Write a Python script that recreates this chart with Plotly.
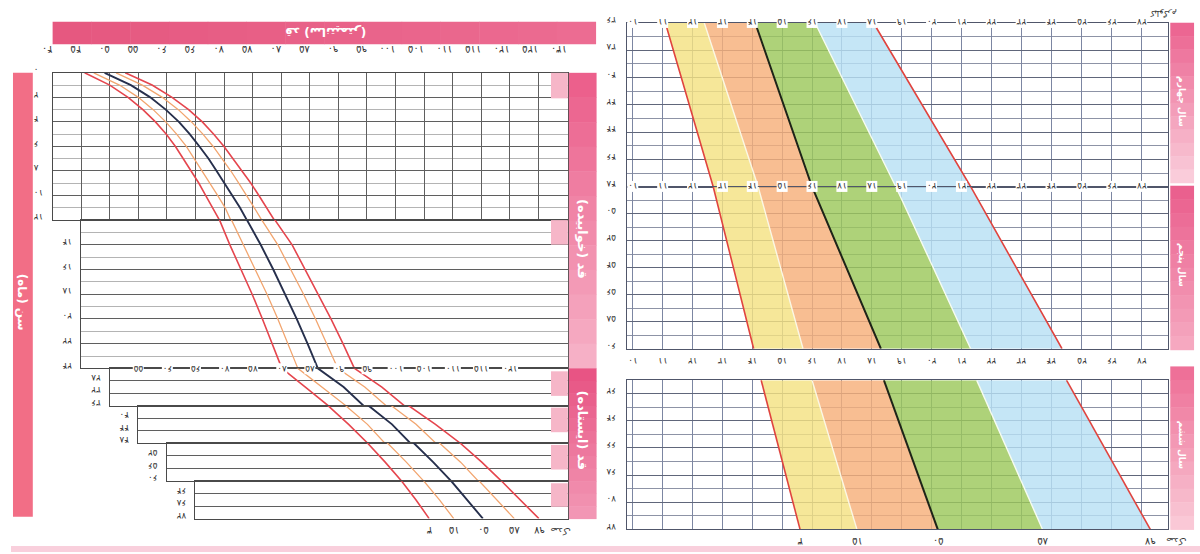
import plotly.graph_objects as go

W, H = 1200, 554
FA = str.maketrans("0123456789", "۰۱۲۳۴۵۶۷۸۹")


def fa(v):
    if isinstance(v, float) and v.is_integer():
        v = int(v)
    return str(v).translate(FA)


# ---------------- data ----------------
# Left panel: length (0-24 m, lying) and height (24-72 m, standing), girls, cm
len_age = [0, 1, 2, 3, 4, 5, 6, 7, 8, 9, 10, 11, 12, 14, 16, 18, 20, 22, 24,
           30, 36, 42, 48, 54, 60, 66, 72]
len_p3 = [45.6, 50.0, 53.2, 55.8, 58.0, 59.9, 61.5, 62.9, 64.3, 65.6, 66.8, 68.0, 69.2,
          71.0, 73.0, 74.9, 76.7, 78.4, 80.1, 84.2, 88.2, 91.8, 95.1, 98.2, 101.1, 103.6, 105.9]
len_p15 = [47.2, 51.7, 55.0, 57.6, 59.8, 61.7, 63.4, 64.8, 66.2, 67.6, 68.9, 70.2, 71.3,
           73.4, 75.5, 77.5, 79.4, 81.2, 82.9, 87.1, 91.3, 95.1, 98.6, 101.9, 105.0, 107.7, 110.2]
len_p50 = [49.1, 53.7, 57.1, 59.8, 62.1, 64.0, 65.7, 67.3, 68.7, 70.1, 71.5, 72.8, 74.0,
           76.4, 78.6, 80.7, 82.7, 84.6, 86.4, 90.9, 95.3, 99.4, 103.2, 106.6, 109.8, 112.6, 115.3]
len_p85 = [51.1, 55.7, 59.2, 62.0, 64.3, 66.3, 68.1, 69.7, 71.2, 72.6, 74.0, 75.3, 76.6,
           79.4, 81.7, 83.9, 86.0, 88.0, 89.9, 94.6, 99.3, 103.6, 107.7, 111.4, 114.7, 117.8, 120.8]
len_p97 = [52.7, 57.4, 60.9, 63.8, 66.2, 68.2, 70.0, 71.6, 73.2, 74.7, 76.1, 77.5, 78.9,
           81.9, 84.2, 86.5, 88.7, 90.8, 92.8, 97.6, 102.4, 107.0, 111.3, 115.1, 118.6, 121.9, 125.1]

height_ticks = list(range(40, 131, 5))          # top scale (cm)
mid_row_ticks = list(range(55, 121, 5))          # labels on the 24-month row
left_age_ticks = [[0, 2, 4, 6, 8, 10, 12], [14, 16, 18, 20, 22, 24],
                  [28, 32, 36], [40, 44, 48], [52, 56, 60], [64, 68, 72]]

# Right panel: weight for age (kg), years 4-6
wt_age_a = [36, 48, 60]
wt_p3_a = [11.1, 12.7, 14.05]
wt_p15_a = [12.4, 14.2, 15.7]
wt_p50_a = [14.1, 16.0, 18.3]
wt_p85_a = [16.1, 18.8, 21.3]
wt_p97_a = [18.05, 21.3, 24.35]
wt_age_b = [61, 72]
wt_p3_b = [14.3, 15.6]
wt_p15_b = [16.0, 17.5]
wt_p50_b = [18.4, 20.2]
wt_p85_b = [21.5, 23.7]
wt_p97_b = [24.5, 27.3]

weight_ticks = list(range(10, 28))
right_age_ticks = [[36, 38, 40, 42, 44, 46, 48], [50, 52, 54, 56, 58, 60],
                   [62, 64, 66, 68, 70, 72]]
pct_labels = [3, 15, 50, 85, 97]

FONT = "DejaVu Sans"
fig = go.Figure()


def px_x(p):
    return p / W


def px_y(p):
    return 1 - p / H


def ax_names(n):
    s = "" if n == 1 else str(n)
    return "x" + s, "y" + s, "xaxis" + s, "yaxis" + s


# ---------------- left panel axes ----------------
K = 5.767            # px per cm
XR = 562             # right edge px
CM_R = 40 + (XR - 42) / K
left_sub = [  # (left px, cm at left, top px, bottom px, age top, age bottom)
    (42, 40, 66, 216, 0, 12),
    (71, 45, 216, 367, 12, 24),
    (100, 50, 367, 405, 24, 36),
    (128.5, 55, 405, 443, 36, 48),
    (157.3, 60, 443, 482, 48, 60),
    (186.2, 65, 482, 520, 60, 72),
]
layout = {}
for i, (xl, cml, yt, yb, a0, a1) in enumerate(left_sub):
    n = i + 1
    xs, ys, xk, yk = ax_names(n)
    first = n == 1
    layout[xk] = dict(
        domain=[px_x(xl), px_x(XR)], range=[cml, CM_R], anchor=ys,
        side="top", tickmode="array", tickvals=height_ticks if first else [],
        ticktext=[fa(v) for v in height_ticks] if first else [],
        showticklabels=first, ticks="", tickangle=180, ticklabelstandoff=12,
        tickfont=dict(family=FONT, size=10, color="#333"),
        showgrid=True, gridcolor="#5f5f5f", gridwidth=1,
        showline=True, mirror=True, linecolor="#4a4a4a", linewidth=1.3,
        zeroline=False, fixedrange=True)
    minor = dict(dtick=1, showgrid=True, gridcolor="#b4b4b4", gridwidth=0.8) if n <= 2 else None
    yd = dict(
        domain=[px_y(yb), px_y(yt)], range=[a1, a0], anchor=xs,
        tickmode="array", tickvals=left_age_ticks[i],
        ticktext=[fa(v) for v in left_age_ticks[i]], ticks="", tickangle=180,
        ticklabelstandoff=16,
        tickfont=dict(family=FONT, size=9, color="#333"),
        showgrid=True, gridcolor="#5f5f5f", gridwidth=1,
        showline=True, mirror=True, linecolor="#4a4a4a", linewidth=1.3,
        zeroline=False, fixedrange=True)
    if minor:
        yd["minor"] = minor
    layout[yk] = yd

# ---------------- right panel axes ----------------
WX0, WX1 = 622, 1168
W_L, W_R = 9.83, 27.9
right_sub = [(15, 182, 36, 48), (182, 347, 48, 60), (379, 531, 61, 72)]
for j, (yt, yb, a0, a1) in enumerate(right_sub):
    n = 7 + j
    xs, ys, xk, yk = ax_names(n)
    layout[xk] = dict(
        domain=[px_x(WX0), px_x(WX1)], range=[W_L, W_R], anchor=ys,
        tickmode="array", tickvals=weight_ticks, showticklabels=False, ticks="",
        showgrid=True, gridcolor="#7c86a2", gridwidth=1,
        showline=True, mirror=True, linecolor="#50566a", linewidth=1.4,
        zeroline=False, fixedrange=True)
    layout[yk] = dict(
        domain=[px_y(yb), px_y(yt)], range=[a1, a0], anchor=xs,
        tickmode="array", tickvals=right_age_ticks[j],
        ticktext=[fa(v) for v in right_age_ticks[j]], ticks="", tickangle=180,
        ticklabelstandoff=18,
        tickfont=dict(family=FONT, size=9, color="#333"),
        showgrid=True, gridcolor="#60667a", gridwidth=1.2,
        minor=dict(dtick=1, showgrid=True, gridcolor="#8d93a6", gridwidth=0.8),
        showline=True, mirror=True, linecolor="#50566a", linewidth=1.4,
        zeroline=False, fixedrange=True)

# ---------------- left panel curves ----------------
left_series = [
    (len_p3, "#e5464e", 1.6),
    (len_p15, "#f2a56f", 1.3),
    (len_p50, "#27304d", 1.9),
    (len_p85, "#f2a56f", 1.3),
    (len_p97, "#e5464e", 1.6),
]
for n in range(1, 7):
    xs, ys, _, _ = ax_names(n)
    for vals, col, wd in left_series:
        fig.add_trace(go.Scatter(x=vals, y=len_age, mode="lines", xaxis=xs, yaxis=ys,
                                 line=dict(color=col, width=wd), showlegend=False,
                                 hoverinfo="skip"))

# ---------------- right panel bands ----------------
band_cols = ["rgba(244,226,130,0.82)", "rgba(246,176,122,0.82)",
             "rgba(156,200,92,0.82)", "rgba(184,224,244,0.82)"]
sets = [
    (7, wt_age_a, [wt_p3_a, wt_p15_a, wt_p50_a, wt_p85_a, wt_p97_a]),
    (8, wt_age_a, [wt_p3_a, wt_p15_a, wt_p50_a, wt_p85_a, wt_p97_a]),
    (9, wt_age_b, [wt_p3_b, wt_p15_b, wt_p50_b, wt_p85_b, wt_p97_b]),
]
line_sty = [("#e0443f", 1.6), ("#fbf7e4", 1.4), ("#1e2418", 2.0),
            ("#f6fbf0", 1.4), ("#e0443f", 1.6)]
for n, ages, ps in sets:
    xs, ys, _, _ = ax_names(n)
    for k in range(4):
        lo, hi = ps[k], ps[k + 1]
        fig.add_trace(go.Scatter(x=lo + hi[::-1], y=ages + ages[::-1], mode="lines",
                                 fill="toself", fillcolor=band_cols[k],
                                 line=dict(width=0), xaxis=xs, yaxis=ys,
                                 showlegend=False, hoverinfo="skip"))
    for k in range(5):
        col, wd = line_sty[k]
        fig.add_trace(go.Scatter(x=ps[k], y=ages, mode="lines", xaxis=xs, yaxis=ys,
                                 line=dict(color=col, width=wd), showlegend=False,
                                 hoverinfo="skip"))

# ---------------- decorations ----------------
shapes = []


def rect(x0, y0, x1, y1, color):
    shapes.append(dict(type="rect", xref="paper", yref="paper",
                       x0=px_x(x0), x1=px_x(x1), y0=px_y(y1), y1=px_y(y0),
                       fillcolor=color, line=dict(width=0), layer="above"))


def vgrad(x0, y0, x1, y1, c_top, c_bot, steps=12):
    for s in range(steps):
        t = s / (steps - 1)
        c = tuple(int(c_top[i] + (c_bot[i] - c_top[i]) * t) for i in range(3))
        ya = y0 + (y1 - y0) * s / steps
        yb = y0 + (y1 - y0) * (s + 1) / steps + 0.5
        rect(x0, ya, x1, yb, "rgb(%d,%d,%d)" % c)


def hgrad(x0, y0, x1, y1, c_l, c_r, steps=14):
    for s in range(steps):
        t = s / (steps - 1)
        c = tuple(int(c_l[i] + (c_r[i] - c_l[i]) * t) for i in range(3))
        xa = x0 + (x1 - x0) * s / steps
        xb = x0 + (x1 - x0) * (s + 1) / steps + 0.5
        rect(xa, y0, xb, y1, "rgb(%d,%d,%d)" % c)


# header bar of left panel
hgrad(42, 14, 590, 37, (230, 88, 128), (236, 108, 146))
# left vertical bar
rect(2, 66, 22, 518, "#f26e86")
# right strip of left panel
vgrad(563, 66, 591, 367, (236, 96, 140), (246, 176, 198))
vgrad(563, 367, 591, 520, (232, 84, 132), (242, 150, 180))
# small tabs
for (ta, tb) in [(66, 92), (216, 241), (370, 395), (407, 432), (445, 470), (484, 508)]:
    rect(545, ta, 562, tb, "#f6b6c8")
# right strip of right panel
vgrad(1170, 15, 1194, 178, (236, 102, 146), (250, 204, 218))
vgrad(1170, 181, 1194, 348, (234, 96, 142), (246, 168, 192))
vgrad(1170, 365, 1194, 531, (238, 112, 152), (250, 200, 214))
# bottom pink line
rect(0, 548, 1200, 554, "#f9cfdc")

ann = []


def txt(x, y, t, size=10, color="#333", angle=180, bg=None, xref="paper", yref="paper",
        yshift=0, bold=False):
    d = dict(x=x, y=y, xref=xref, yref=yref, text=("<b>%s</b>" % t) if bold else t,
             showarrow=False, textangle=angle, yshift=yshift,
             font=dict(family=FONT, size=size, color=color),
             xanchor="center", yanchor="middle")
    if bg:
        d["bgcolor"] = bg
        d["borderpad"] = 0
    ann.append(d)


# titles (upside-down as in the scan)
txt(px_x(318), px_y(25), "قد (سانتیمتر)", size=12, color="white", bold=True)
txt(px_x(12), px_y(300), "سن (ماه)", size=12, color="white", angle=90, bold=True)
txt(px_x(577), px_y(235), "قد (خوابیده)", size=13, color="white", angle=90, bold=True)
txt(px_x(577), px_y(430), "قد (ایستاده)", size=13, color="white", angle=90, bold=True)
txt(px_x(1182), px_y(95), "سال چهارم", size=9, color="white", angle=90, bold=True)
txt(px_x(1182), px_y(262), "سال پنجم", size=9, color="white", angle=90, bold=True)
txt(px_x(1182), px_y(445), "سال ششم", size=9, color="white", angle=90, bold=True)
txt(px_x(1163), px_y(6), "کیلوگرم", size=8, color="#333")

# height labels on the 24-month row
for v in mid_row_ticks:
    txt(v, 24, fa(v), size=9, xref="x3", yref="y3", bg="white")
# weight labels on the section rows
for v in weight_ticks:
    txt(v, 36, fa(v), size=9, xref="x7", yref="y7", bg="white")
    txt(v, 48, fa(v), size=9, xref="x8", yref="y8", bg="white")
    txt(v, px_y(360), fa(v), size=9, xref="x9", yref="paper", bg="white")

# percentile labels at the curve ends
left_last = [len_p3[-1], len_p15[-1], len_p50[-1], len_p85[-1], len_p97[-1]]
for p, v in zip(pct_labels, left_last):
    txt(v, len_age[-1], fa(p), size=10, xref="x6", yref="y6", yshift=-12)
txt(px_x(555), px_y(532), "صدک", size=9)
right_last = [wt_p3_b[-1], wt_p15_b[-1], wt_p50_b[-1], wt_p85_b[-1], wt_p97_b[-1]]
for p, v in zip(pct_labels, right_last):
    txt(v, wt_age_b[-1], fa(p), size=10, xref="x9", yref="y9", yshift=-12)
txt(px_x(1176), px_y(543), "صدک", size=9)

fig.update_layout(
    width=W, height=H, margin=dict(l=0, r=0, t=0, b=0),
    paper_bgcolor="white", plot_bgcolor="white",
    showlegend=False, shapes=shapes, annotations=ann,
    font=dict(family=FONT),
    **layout)

fig.write_html(
    "out.html", config={"displayModeBar": False},
    post_script="document.body.style.margin='0';document.body.style.padding='0';"
                "document.body.style.overflow='hidden';"
                "document.documentElement.style.overflow='hidden';")
